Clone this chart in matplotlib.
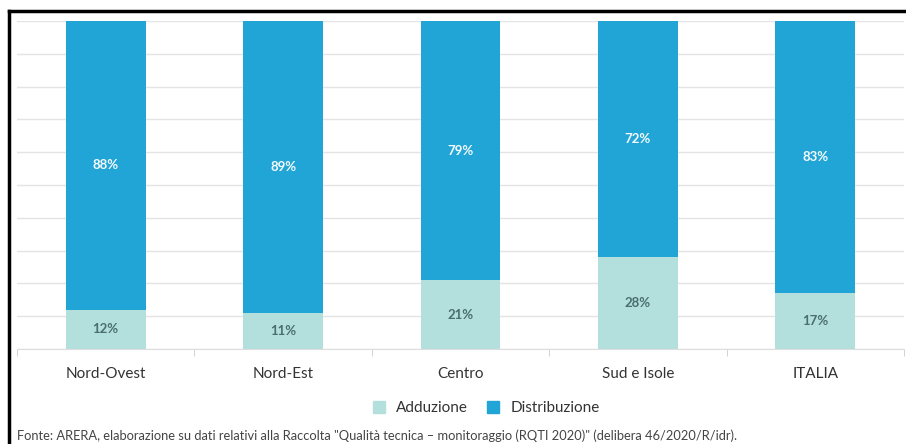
import matplotlib
matplotlib.use("Agg")
import matplotlib.pyplot as plt
from matplotlib.patches import Patch
from matplotlib.lines import Line2D
import numpy as np

plt.rcParams['font.family'] = ['Lato', 'DejaVu Sans']

# quote per macro-area (%)
aree = ["Nord-Ovest", "Nord-Est", "Centro", "Sud e Isole", "ITALIA"]
adduzione = [12, 11, 21, 28, 17]
distribuzione = [88, 89, 79, 72, 83]

col_add = "#b3e0dd"
col_dist = "#21a5d6"

fig = plt.figure(figsize=(9.06, 4.44), dpi=100)
ax = fig.add_axes([17/906, 1-349/444, 887/906, 328/444])

x = np.arange(len(aree))
w = 0.45
ax.bar(x, adduzione, width=w, color=col_add, zorder=2)
ax.bar(x, distribuzione, width=w, bottom=adduzione, color=col_dist, zorder=2)

for i in range(len(aree)):
    ax.text(x[i], adduzione[i]/2, f"{adduzione[i]}%", ha="center", va="center",
            fontsize=9.5, color="#4a6e6e", fontweight="bold")
    ax.text(x[i], adduzione[i] + distribuzione[i]/2, f"{distribuzione[i]}%",
            ha="center", va="center", fontsize=9.5, color="#f4fbfe", fontweight="bold")

ax.set_xlim(-0.5, len(aree) - 0.5)
ax.set_ylim(0, 100)
ax.set_yticks(np.arange(0, 101, 10))
ax.yaxis.grid(True, color="#e4e4e4", linewidth=1, zorder=0)
ax.tick_params(axis="y", left=False, labelleft=False)
ax.set_xticks(x)
ax.set_xticklabels(aree, fontsize=11, color="#333333")
ax.tick_params(axis="x", length=0, pad=13)
ax.set_xticks(np.arange(-0.5, len(aree)), minor=True)
ax.tick_params(axis="x", which="minor", length=5, color="#cccccc")
for s in ["top", "right", "left"]:
    ax.spines[s].set_visible(False)
ax.spines["bottom"].set_color("#dddddd")

handles = [Patch(color=col_add, label="Adduzione"),
           Patch(color=col_dist, label="Distribuzione")]
fig.legend(handles=handles, loc="center", bbox_to_anchor=(486/906, 1-408/444),
           ncol=2, frameon=False, fontsize=11, handlelength=0.8, handleheight=0.8,
           columnspacing=1.3, handletextpad=0.7, labelcolor="#333333")

fig.text(17/906, 1-436/444,
         "Fonte: ARERA, elaborazione su dati relativi alla Raccolta \"Qualità tecnica – monitoraggio (RQTI 2020)\" (delibera 46/2020/R/idr).",
         fontsize=9.3, color="#444444", va="center", ha="left")

# cornice
fig.add_artist(Line2D([9/906, 9/906], [0, 1-11/444], color="black", linewidth=2.5,
                      transform=fig.transFigure))
fig.add_artist(Line2D([9/906, 1], [1-11/444, 1-11/444], color="black", linewidth=2.5,
                      transform=fig.transFigure))

fig.savefig("out.png", dpi=100)
